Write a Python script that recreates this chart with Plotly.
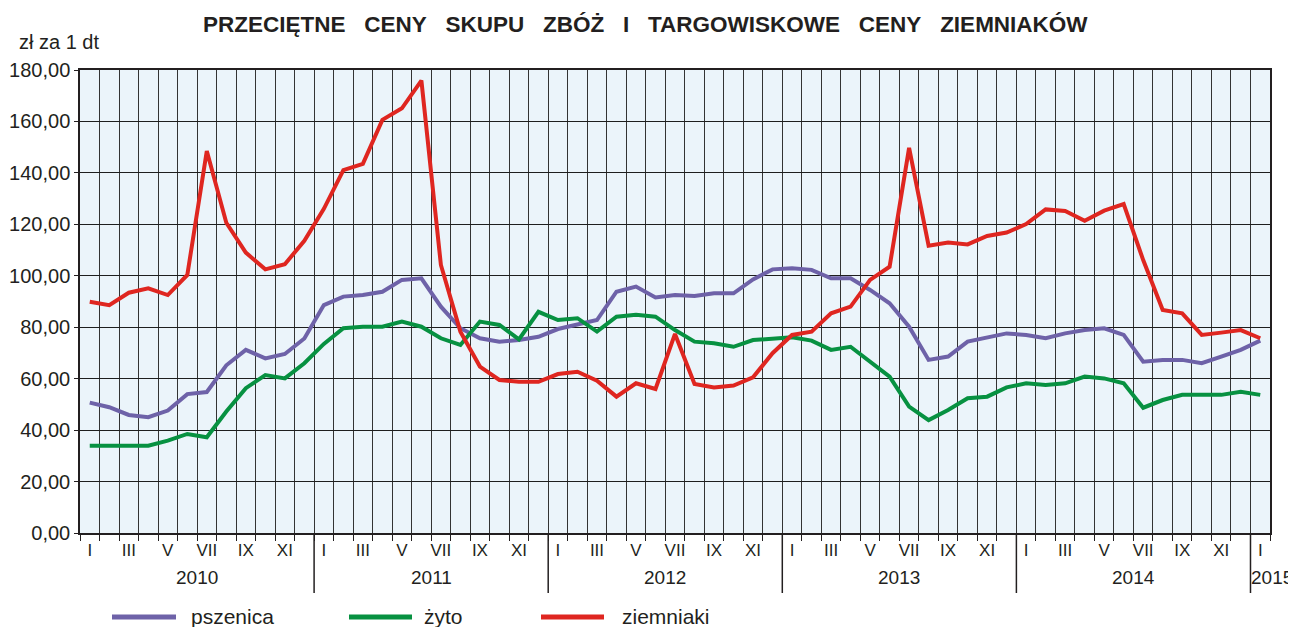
import plotly.graph_objects as go

# ---- data (zł za 1 dt), monthly I 2010 – I 2015 ----
years = ["2010", "2011", "2012", "2013", "2014", "2015"]
roman = ["I", "II", "III", "IV", "V", "VI", "VII", "VIII", "IX", "X", "XI", "XII"]

pszenica = [50.7, 48.9, 45.9, 45.0, 47.6, 54.0, 54.8, 65.2, 71.2, 67.9, 69.6, 75.6,
            88.6, 91.9, 92.5, 93.8, 98.4, 99.0, 88.0, 79.6, 75.7, 74.4, 75.0, 76.3,
            79.3, 80.9, 82.8, 93.8, 95.8, 91.6, 92.5, 92.1, 93.2, 93.2, 98.6, 102.5,
            102.9, 102.3, 99.0, 99.0, 94.5, 89.3, 80.2, 67.3, 68.6, 74.4, 75.9, 77.6,
            77.0, 75.7, 77.6, 78.9, 79.6, 77.0, 66.6, 67.3, 67.3, 66.0, 68.6, 71.2,
            74.8]
zyto = [33.9, 33.9, 33.9, 33.9, 35.9, 38.5, 37.2, 47.2, 56.3, 61.4, 60.1, 66.0,
        73.5, 79.6, 80.2, 80.2, 82.2, 80.2, 75.7, 73.1, 82.2, 80.9, 75.3, 86.0,
        82.8, 83.5, 78.3, 84.1, 84.8, 84.1, 78.9, 74.4, 73.8, 72.4, 75.0, 75.7,
        76.1, 74.8, 71.2, 72.4, 66.6, 60.8, 49.1, 43.9, 47.8, 52.4, 53.0, 56.6,
        58.2, 57.5, 58.2, 60.8, 60.1, 58.2, 48.7, 51.7, 53.7, 53.7, 53.7, 54.9,
        53.7]
ziemniaki = [89.9, 88.6, 93.4, 95.1, 92.5, 100.3, 148.5, 120.6, 109.0, 102.5, 104.5, 113.6,
             126.0, 141.1, 143.5, 160.6, 165.1, 175.9, 104.2, 78.3, 64.7, 59.5, 58.8, 58.8,
             61.8, 62.7, 59.2, 53.0, 58.2, 56.0, 77.4, 57.9, 56.6, 57.3, 60.5, 69.9,
             77.0, 78.3, 85.4, 88.0, 98.4, 103.5, 149.7, 111.7, 112.9, 112.2, 115.5, 116.8,
             120.1, 125.8, 125.2, 121.4, 125.3, 127.9, 106.1, 86.7, 85.4, 77.0, 77.9, 78.9,
             75.7]

series = [("pszenica", pszenica, "#6E62A8"),
          ("żyto", zyto, "#079141"),
          ("ziemniaki", ziemniaki, "#DF2620")]

y_ticks = [0, 20, 40, 60, 80, 100, 120, 140, 160, 180]
y_ticktext = [f"{v},00" for v in y_ticks]

n = len(pszenica)
x = list(range(n))
month_labels = [roman[i % 12] for i in x]

FONT = "Liberation Sans, Arial, sans-serif"
TXT = "#231F20"

fig = go.Figure()
for name, vals, col in series:
    fig.add_trace(go.Scatter(x=x, y=vals, mode="lines", name=name,
                             line=dict(color=col, width=4), showlegend=False))

# plot area on the page: x 80..1270, y 70..533 (page has an 8px body margin)
PH = 463.0
PW = 1190.0

def py(px_below):
    return -px_below / PH

annotations = []
shapes = []
# year labels + separators
for k, yr in enumerate(years):
    if k < 5:
        annotations.append(dict(x=k * 12 + 5.5, y=py(44), xref="x", yref="paper",
                                text=yr, showarrow=False, yanchor="middle",
                                font=dict(size=19, color=TXT, family=FONT)))
    else:
        annotations.append(dict(x=k * 12 - 0.5, y=py(44), xref="x", yref="paper",
                                text=yr, showarrow=False, xanchor="left", xshift=-1,
                                yanchor="middle",
                                font=dict(size=19, color=TXT, family=FONT)))
for k in range(1, 6):
    shapes.append(dict(type="line", xref="x", yref="paper", x0=k * 12 - 0.5, x1=k * 12 - 0.5,
                       y0=0, y1=py(60), line=dict(color="#231F20", width=1.5)))

# title and unit
title = "PRZECIĘTNE CENY SKUPU ZBÓŻ I TARGOWISKOWE CENY ZIEMNIAKÓW".replace(" ", "\u00a0\u00a0\u00a0")
annotations.append(dict(x=(645 - 80) / PW, y=1 + (70 - 25) / PH, xref="paper", yref="paper",
                        text=title, showarrow=False, xanchor="center", yanchor="middle",
                        font=dict(size=22.5, color=TXT, family=FONT, weight="bold")))
annotations.append(dict(x=(17 - 80) / PW, y=1 + (70 - 42) / PH, xref="paper", yref="paper",
                        text="zł za 1 dt", showarrow=False, xanchor="left", yanchor="middle",
                        font=dict(size=20, color=TXT, family=FONT)))

# legend (manual)
leg = [(112, 176, 189), (349, 412, 422), (541, 604, 620)]
for (x0, x1, tx), (name, _, col) in zip(leg, series):
    shapes.append(dict(type="line", xref="paper", yref="paper",
                       x0=(x0 - 80) / PW, x1=(x1 - 80) / PW,
                       y0=py(617 - 533), y1=py(617 - 533), line=dict(color=col, width=5)))
    annotations.append(dict(x=(tx - 80) / PW, y=py(616 - 533), xref="paper", yref="paper",
                            text=name, showarrow=False, xanchor="left", yanchor="middle",
                            font=dict(size=21, color=TXT, family=FONT)))

fig.update_layout(
    width=1296, height=627,
    margin=dict(l=72, r=34, t=62, b=102, pad=0),
    paper_bgcolor="white", plot_bgcolor="#EBF4FA",
    font=dict(family=FONT, color=TXT),
    xaxis=dict(range=[-0.5, n - 0.5], tickmode="array",
               tickvals=x[::2], ticktext=month_labels[::2],
               ticks="", showgrid=False, zeroline=False, automargin=False,
               tickfont=dict(size=17, color=TXT, family=FONT),
               ticklabelstandoff=1,
               showline=True, linecolor="#231F20", linewidth=1.5, mirror=True,
               minor=dict(tick0=-0.5, dtick=1, ticks="outside", ticklen=6,
                          tickcolor="#231F20", showgrid=True,
                          gridcolor="#333333", gridwidth=1.3)),
    yaxis=dict(range=[0, 180], tickmode="array", tickvals=y_ticks, ticktext=y_ticktext,
               ticks="outside", ticklen=4, tickcolor="#231F20", automargin=False,
               showgrid=True, gridcolor="#1e1e1e", gridwidth=1, zeroline=False,
               tickfont=dict(size=20, color=TXT, family=FONT),
               showline=True, linecolor="#231F20", linewidth=1.5, mirror=True),
    shapes=shapes, annotations=annotations,
)

fig.write_html("out.html")
